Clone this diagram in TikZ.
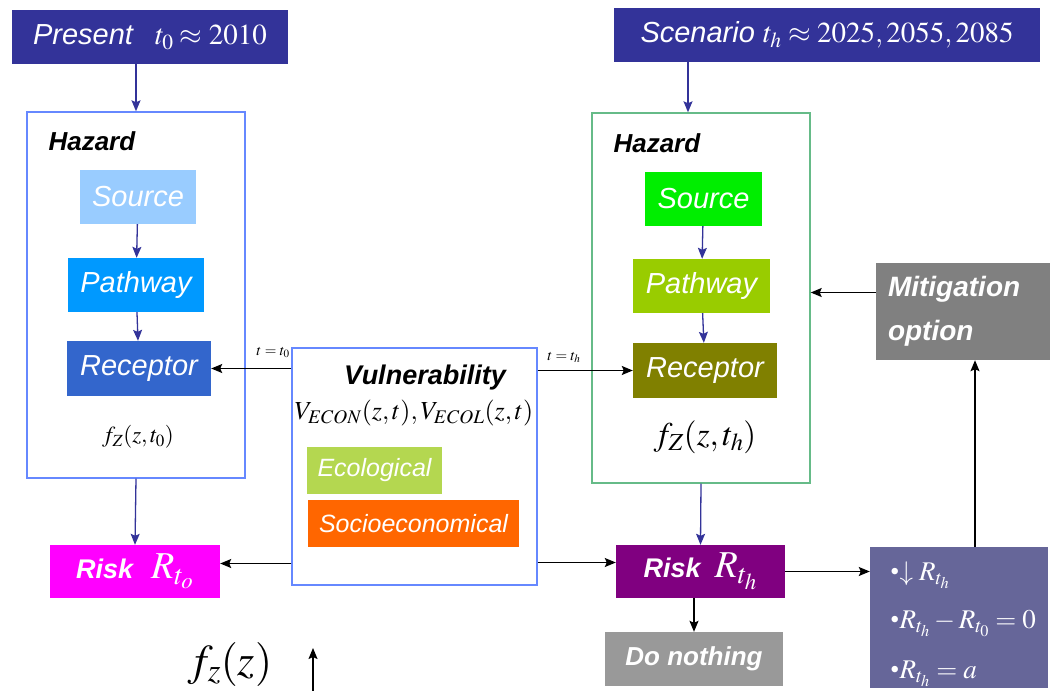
\documentclass[tikz,border=0pt]{standalone}
\usepackage{mathptmx}
\usepackage{fontspec}
\setmainfont{Liberation Serif}
\setsansfont{Liberation Sans}
\usetikzlibrary{arrows.meta}
\definecolor{NightBlue}{RGB}{51,51,153}
\definecolor{SkyEdge}{RGB}{102,136,255}
\definecolor{SeaEdge}{RGB}{102,187,136}
\definecolor{SrcBlue}{RGB}{153,204,255}
\definecolor{PathBlue}{RGB}{0,153,255}
\definecolor{RecBlue}{RGB}{51,102,204}
\definecolor{SrcGreen}{RGB}{0,238,0}
\definecolor{PathGreen}{RGB}{153,204,0}
\definecolor{RecOlive}{RGB}{128,128,0}
\definecolor{EcoGreen}{RGB}{180,215,80}
\definecolor{SocOrange}{RGB}{255,102,0}
\definecolor{RiskPink}{RGB}{255,0,255}
\definecolor{RiskPurple}{RGB}{128,0,128}
\definecolor{MitGray}{RGB}{128,128,128}
\definecolor{NothingGray}{RGB}{153,153,153}
\definecolor{BulletSlate}{RGB}{102,102,153}

\begin{document}
\begin{tikzpicture}[x=1pt,y=-1pt,
  box/.style={inner sep=0pt,minimum height=54pt,text=white},
  stage/.style={box,font=\sffamily\itshape\fontsize{29}{32}\selectfont},
  frame/.style={draw,line width=1.4pt,inner sep=0pt},
  heading/.style={anchor=west,font=\sffamily\bfseries\itshape\fontsize{26}{28}\selectfont},
  flow/.style={-{Stealth[length=11pt,width=9pt,inset=2pt]},NightBlue,line width=1.3pt},
  link/.style={-{Stealth[length=11pt,width=9pt,inset=2pt]},line width=1.4pt}]
\useasboundingbox (0,0) rectangle (1050,691);

% the two points in time
\node[box,fill=NightBlue,minimum width=276pt] (present) at (150,37)
  {\sffamily\itshape\fontsize{29}{32}\selectfont Present\hspace{22pt}$t_0 \approx 2010$};
\node[box,fill=NightBlue,minimum width=426pt] (scen) at (827,35)
  {\sffamily\itshape\fontsize{29}{32}\selectfont Scenario $t_h \approx 2025,2055,2085$};

% frames
\node[frame,draw=SkyEdge,minimum width=218pt,minimum height=366pt] (hazL) at (136,295) {};
\node[frame,draw=SeaEdge,minimum width=218pt,minimum height=370pt] (hazR) at (701,298) {};
\node[frame,draw=SkyEdge,minimum width=245pt,minimum height=237pt] (vul) at (414.5,466.5) {};

% present hazard
\node[heading] (hzdL) at (45,141) {Hazard};
\node[stage,fill=SrcBlue,minimum width=116pt] (srcL) at (138,197) {Source};
\node[stage,fill=PathBlue,minimum width=136pt] (pathL) at (136,285) {Pathway};
\node[stage,fill=RecBlue,minimum width=144pt,minimum height=55pt] (recL) at (139,368.5) {Receptor};
\node[font=\fontsize{23}{25}\selectfont] (fL) at (138,437) {$f_Z(z,t_0)$};

% scenario hazard
\node[heading] (hzdR) at (610,143) {Hazard};
\node[stage,fill=SrcGreen,minimum width=117pt] (srcR) at (703.5,199) {Source};
\node[stage,fill=PathGreen,minimum width=137pt] (pathR) at (701.5,286) {Pathway};
\node[stage,fill=RecOlive,minimum width=144pt,minimum height=55pt] (recR) at (705,370.5) {Receptor};
\node[font=\fontsize{33}{35}\selectfont] (fR) at (705,437) {$f_Z(z,t_h)$};

% vulnerability
\node[font=\sffamily\bfseries\itshape\fontsize{27}{29}\selectfont] (vulT) at (425,378) {Vulnerability};
\node[font=\fontsize{26}{28}\selectfont] (vulF) at (414,413) {$V_{ECON}(z,t),V_{ECOL}(z,t)$};
\node[box,fill=EcoGreen,minimum width=135pt,minimum height=47pt,
  font=\sffamily\itshape\fontsize{25}{27}\selectfont] (eco) at (374.5,470.5) {Ecological};
\node[box,fill=SocOrange,minimum width=211pt,minimum height=47pt,
  font=\sffamily\itshape\fontsize{25}{27}\selectfont] (soc) at (413.5,523.5) {Socioeconomical};

% risks and options
\node[box,fill=RiskPink,minimum width=170pt,minimum height=53pt] (riskL) at (135,571.5)
  {\sffamily\bfseries\itshape\fontsize{27}{29}\selectfont Risk\hspace{18pt}\fontsize{38}{40}\selectfont$R_{t_o}$};
\node[box,fill=RiskPurple,minimum width=169pt,minimum height=53pt] (riskR) at (700.5,571.5)
  {\sffamily\bfseries\itshape\fontsize{27}{29}\selectfont Risk\hspace{14pt}\fontsize{38}{40}\selectfont$R_{t_h}$};
\node[box,fill=MitGray,minimum width=174pt,minimum height=97pt,align=left,text width=150pt,
  font=\sffamily\bfseries\itshape\fontsize{28}{44}\selectfont] (mit) at (963,311.5) {Mitigation\\option};
\node[box,fill=BulletSlate,minimum width=178pt,minimum height=141pt] (bul) at (959,617.5) {};
\node[anchor=base west,text=white,inner sep=0pt,font=\fontsize{27}{29}\selectfont] (bulA) at (890,580)
  {\textbullet$\downarrow R_{t_h}$};
\node[anchor=base west,text=white,inner sep=0pt,font=\fontsize{27}{29}\selectfont] (bulB) at (890,628)
  {\textbullet$R_{t_h}-R_{t_0}=0$};
\node[anchor=base west,text=white,inner sep=0pt,font=\fontsize{27}{29}\selectfont] (bulC) at (890,678)
  {\textbullet$R_{t_h}=a$};
\node[box,fill=NothingGray,minimum width=178pt,
  font=\sffamily\bfseries\itshape\fontsize{26}{28}\selectfont] (donot) at (694,659) {Do nothing};
\node[font=\fontsize{44}{46}\selectfont] (fz) at (230,664) {$f_z(z)$};
\coordinate (fzbot) at (313,691);
\coordinate (fztop) at (313,648);
\coordinate (mitfoot) at ([xshift=12pt]mit.south);
\coordinate (mitside) at ([yshift=19pt]mit.west);
\coordinate (riskLin) at ([yshift=8pt]riskL.east);
\coordinate (riskRin) at ([yshift=9pt]riskR.west);

% blue arrows
\draw[flow] (present.south -| hazL.north) -- (hazL.north);
\draw[flow] ([xshift=-13pt]hazR.north |- scen.south) -- ([xshift=-13pt]hazR.north);
\draw[flow] (srcL) -- (pathL);
\draw[flow] (pathL) -- (recL);
\draw[flow] (srcR) -- (pathR);
\draw[flow] (pathR) -- (recR);
\draw[flow] (hazL.south) -- (riskL.north);
\draw[flow] (hazR.south) -- (riskR.north);

% black arrows
\draw[link] (vul.west |- recL) -- (recL.east)
  node[pos=0,anchor=south east,inner sep=1pt,yshift=9pt,font=\fontsize{15}{16}\selectfont] (tL) {$t=t_0$};
\draw[link] (vul.east |- recR) -- (recR.west)
  node[pos=0,anchor=south west,inner sep=1pt,xshift=8pt,yshift=6pt,font=\fontsize{15}{16}\selectfont] (tR) {$t=t_h$};
\draw[link] (vul.west |- riskLin) -- (riskLin);
\draw[link] (vul.east |- riskRin) -- (riskRin);
\draw[link] (riskR.east) -- (bul.west |- riskR.east);
\draw[link] (bul.north -| mitfoot) -- (mitfoot);
\draw[link] (mitside) -- (hazR.east |- mitside);
\draw[link] (riskR.south -| donot.north) -- (donot.north);
\draw[link] (fzbot) -- (fztop);
\end{tikzpicture}
\end{document}
